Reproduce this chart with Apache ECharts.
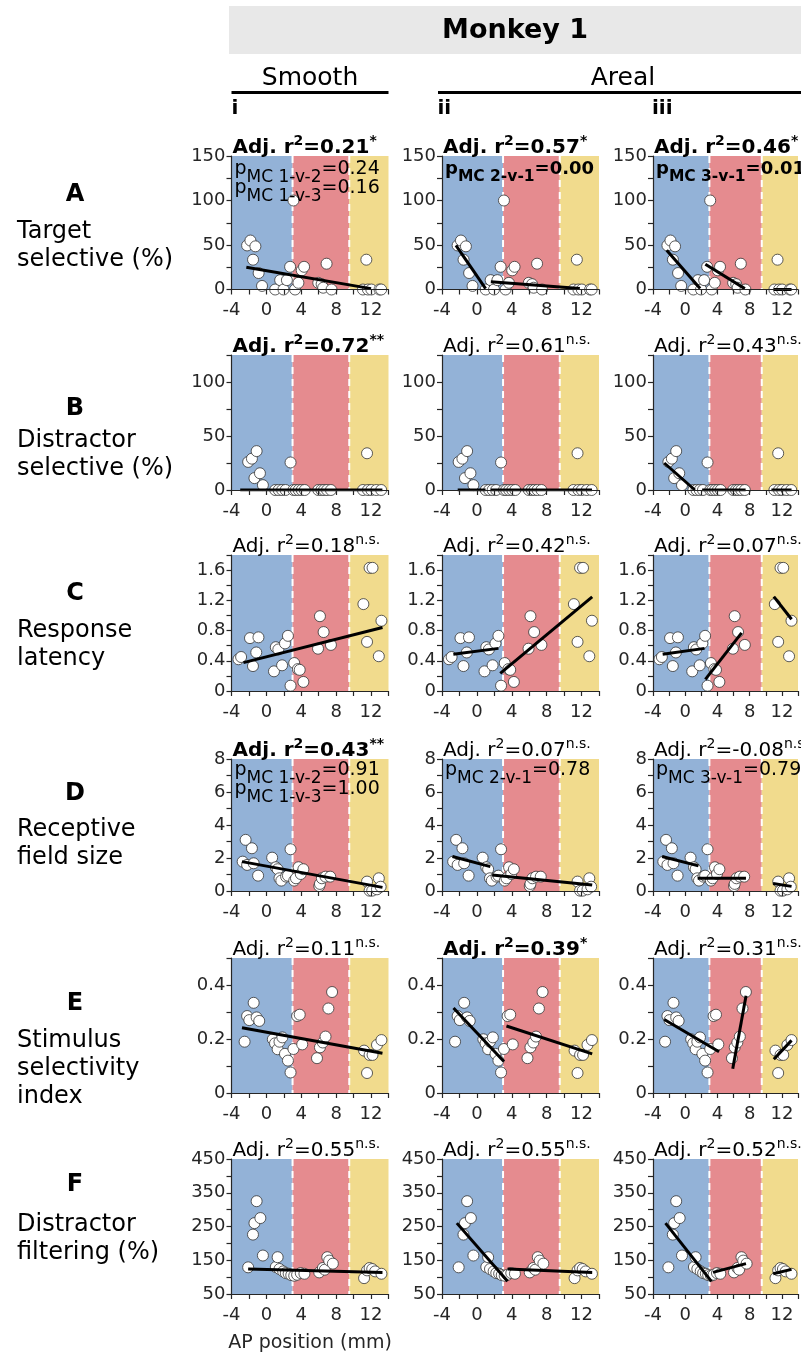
<!DOCTYPE html>
<html><head><meta charset="utf-8">
<script src="https://cdn.jsdelivr.net/npm/echarts@6/dist/echarts.min.js"></script>
<style>html,body{margin:0;padding:0;background:#fff}#c{width:801px;height:1361px}</style>
</head><body><div id="c"></div>
<script>
// ---------------- DATA ----------------
const xTickLabels = [-4, 0, 4, 8, 12];
const bandEdges = [-4, 3, 9.5, 14];
const bandColors = ['#93b2d7', '#e58b8f', '#f1db8d'];
const columnNames = ['i', 'ii', 'iii'];

// A: Target selective (%)
const targetX = [-2.21,-1.83,-1.26,-1.53,-0.89,-0.5,1.01,1.58,1.96,2.35,2.72,3.1,3.29,3.67,4.05,4.32,5.95,6.33,6.51,6.9,7.47,11.07,11.46,11.64,12.03,12.97,13.16];
const targetY = [49.5,55,48.5,33.5,18.5,4,0,10.5,0,10.5,25.5,100,0,7.5,21.5,25.5,7.5,6,2,29,0,0,33.5,0,0,0,0];
const targetFits = [
  [[-2.3, 25, 12.0, 1]],
  [[-2.4, 49.5, 1.0, 1], [1.6, 8.6, 11.8, 1]],
  [[-2.3, 44, 1.85, 1], [2.5, 28.3, 7.4, 1], [11.0, 0, 13.2, 0]]
];
const targetR2 = ['0.21', '0.57', '0.46'];
const targetSig = ['*', '*', '*'];

// B: Distractor selective (%)
const distX = [-2.09,-1.66,-1.12,-1.37,-0.74,-0.4,1.01,1.4,1.8,2.2,2.77,3.1,3.35,3.7,4.05,4.4,5.95,6.3,6.6,6.95,7.4,11.07,11.54,11.64,12.03,12.6,13.16];
const distY = [26,29,36,11,15.5,4.5,0,0,0,0,25.5,0,0,0,0,0,0,0,0,0,0,0,34,0,0,0,0];
const distFits = [
  [[-3.0, 0, 13.3, 0]],
  [[-2.2, 0, 1.0, 0], [1.6, 0, 13.2, 0]],
  [[-2.6, 25, 1.2, 0], [2.1, 0, 7.5, 0], [10.7, 0, 13.2, 0]]
];
const distR2 = ['0.72', '0.61', '0.43'];
const distSig = ['**', 'n.s.', 'n.s.'];

// C: Response latency
const latX = [-3.2,-2.9,-1.88,-1.54,-1.16,-0.91,0.87,1.08,1.37,1.8,2.13,2.47,2.77,3.19,3.61,3.82,4.24,5.92,6.14,6.56,7.4,11.12,11.54,11.83,12.17,12.89,13.19];
const latY = [0.42,0.45,0.70,0.33,0.51,0.71,0.26,0.58,0.55,0.34,0.63,0.73,0.07,0.37,0.29,0.28,0.12,0.56,0.99,0.78,0.61,1.15,0.65,1.63,1.63,0.46,0.93];
const latFits = [
  [[-2.63, 0.375, 13.31, 0.84]],
  [[-2.7, 0.485, 2.47, 0.564], [2.68, 0.234, 13.22, 1.247]],
  [[-2.8, 0.485, 2.4, 0.564], [2.5, 0.154, 7.0, 0.77], [11.0, 1.25, 13.2, 0.95]]
];
const latR2 = ['0.18', '0.42', '0.07'];
const latSig = ['n.s.', 'n.s.', 'n.s.'];

// D: Receptive field size
const rfX = [-2.72,-2.38,-2.21,-1.66,-1.46,-0.95,0.66,1.08,1.29,1.5,1.71,2.26,2.47,2.77,3.19,3.39,3.69,3.94,4.24,6.06,6.14,6.36,6.78,7.32,11.54,11.83,12.13,12.68,12.89,13.1];
const rfY = [1.78,3.1,1.58,2.59,1.68,0.93,2.02,1.44,1.32,0.77,0.63,0.87,0.93,2.53,0.63,0.77,1.44,1.03,1.32,0.3,0.43,0.77,0.87,0.87,0.57,0.02,0.02,0.1,0.77,0.26];
const rfFits = [
  [[-2.8, 1.78, 13.31, 0.22]],
  [[-2.8, 2.09, 1.54, 1.48], [1.75, 0.97, 13.22, 0.36]],
  [[-2.87, 2.09, 1.64, 1.52], [1.55, 0.78, 7.54, 0.78], [10.9, 0.45, 13.2, 0.28]]
];
const rfR2 = ['0.43', '0.07', '-0.08'];
const rfSig = ['**', 'n.s.', 'n.s.'];

// E: Stimulus selectivity index
const ssiX = [-2.5,-2.21,-1.96,-1.46,-1.12,-0.82,0.74,0.99,1.29,1.5,1.83,2.13,2.47,2.77,3.1,3.52,3.82,4.11,5.8,6.14,6.47,6.78,7.11,7.53,11.2,11.54,11.83,12.17,12.68,13.19];
const ssiY = [0.19,0.285,0.27,0.334,0.28,0.267,0.199,0.184,0.162,0.19,0.206,0.145,0.12,0.076,0.163,0.285,0.29,0.18,0.129,0.169,0.187,0.209,0.313,0.374,0.157,0.074,0.141,0.141,0.178,0.196];
const ssiFits = [
  [[-2.8, 0.242, 13.31, 0.147]],
  [[-2.68, 0.315, 3.1, 0.117], [3.39, 0.248, 13.22, 0.145]],
  [[-2.6, 0.272, 4.2, 0.153], [5.9, 0.09, 7.55, 0.36], [11.0, 0.125, 13.2, 0.195]]
];
const ssiR2 = ['0.11', '0.39', '0.31'];
const ssiSig = ['n.s.', '*', 'n.s.'];

// F: Distractor filtering (%)
const filtX = [-2.09,-1.54,-1.37,-1.12,-0.69,-0.4,1.08,1.29,1.5,1.92,2.22,2.55,2.85,3.19,3.52,3.94,4.36,6.06,6.48,6.69,6.98,7.2,7.62,11.2,11.54,11.83,12.13,12.47,13.19];
const filtY = [129,226,260,325,275,164,130,159,124,117,112,110,106,104,107,112,110,114,127,122,159,149,140,97,120,127,124,117,110];
const filtFits = [
  [[-2.09, 124, 13.31, 114]],
  [[-2.3, 260, 3.52, 87.5], [3.52, 124, 13.22, 114]],
  [[-2.45, 260, 3.25, 87.5], [3.45, 114, 7.54, 140], [10.92, 110, 13.2, 123]]
];
const filtR2 = ['0.55', '0.55', '0.52'];
const filtSig = ['n.s.', 'n.s.', 'n.s.'];

// Model-comparison p values
const pmcTarget = [[['1-v-2', '0.24'], ['1-v-3', '0.16']], [['2-v-1', '0.00']], [['3-v-1', '0.01']]];
const pmcTargetBold = [false, true, true];
const pmcRf = [[['1-v-2', '0.91'], ['1-v-3', '1.00']], [['2-v-1', '0.78']], [['3-v-1', '0.79']]];

const rowLetters = ['A', 'B', 'C', 'D', 'E', 'F'];
const rowLabels = [['Target', 'selective (%)'], ['Distractor', 'selective (%)'], ['Response', 'latency'],
  ['Receptive', 'field size'], ['Stimulus', 'selectivity', 'index'], ['Distractor', 'filtering (%)']];

// ---------------- LAYOUT ----------------
const FF = '"DejaVu Sans", sans-serif';
const colLeft = [231.5, 442, 653];
const plotW = 157;
const rowTop = [156, 355, 555, 759, 958, 1159];
const rowH = [133.5, 135, 136, 132, 135, 135];
const pmcOffset = [4, 0, 0, 2, 0, 0];
const letterY = [195, 409, 594, 794, 1004, 1185];
const labelY0 = [231.5, 441, 631, 830, 1041, 1225];

function decLab(every) {
  return v => { const t = Math.round(v * 10); return (t % every === 0) ? (t === 0 ? '0' : (t / 10).toFixed(1)) : ''; };
}
const rows = [
  {x: targetX, y: targetY, fits: targetFits, r2: targetR2, sig: targetSig, pmc: pmcTarget, pmcBold: pmcTargetBold,
   yMin: 0, yMax: 150, yInt: 25, fmt: v => (v % 50 === 0 ? String(v) : '')},
  {x: distX, y: distY, fits: distFits, r2: distR2, sig: distSig,
   yMin: 0, yMax: 125, yInt: 25, fmt: v => (v % 50 === 0 ? String(v) : '')},
  {x: latX, y: latY, fits: latFits, r2: latR2, sig: latSig,
   yMin: 0, yMax: 1.8, yInt: 0.2, fmt: decLab(4)},
  {x: rfX, y: rfY, fits: rfFits, r2: rfR2, sig: rfSig, pmc: pmcRf, pmcBold: [false, false, false],
   yMin: 0, yMax: 8, yInt: 1, fmt: v => (v % 2 === 0 ? String(v) : '')},
  {x: ssiX, y: ssiY, fits: ssiFits, r2: ssiR2, sig: ssiSig,
   yMin: 0, yMax: 0.5, yInt: 0.1, fmt: decLab(2)},
  {x: filtX, y: filtY, fits: filtFits, r2: filtR2, sig: filtSig,
   yMin: 50, yMax: 450, yInt: 50, fmt: v => ((v - 50) % 100 === 0 ? String(v) : '')}
];

function st(size, lh, va, bold, pad) {
  const o = {fontFamily: FF, fontSize: size, lineHeight: lh, verticalAlign: va, color: '#000',
    fontWeight: bold ? 'bold' : 'normal'};
  if (pad) o.padding = pad;
  return o;
}
const rich = {
  tn: st(20, 24, 'bottom', false), tb: st(20, 24, 'bottom', true),
  sn: st(14, 14, 'top', false), sb: st(14, 14, 'top', true),
  pn: st(19, 20, 'top', false), pb: st(18, 20, 'top', true),
  qn: st(17, 20, 'top', false, [9, 0, 0, 0]), qb: st(15.5, 20, 'top', true, [9, 0, 0, 0])
};

const grids = [], xAxes = [], yAxes = [], series = [], titles = [];
rows.forEach((r, ri) => {
  for (let ci = 0; ci < 3; ci++) {
    const gi = grids.length;
    grids.push({left: colLeft[ci], top: rowTop[ri], width: plotW, height: rowH[ri], containLabel: false});
    xAxes.push({
      gridIndex: gi, type: 'value', min: bandEdges[0], max: bandEdges[3], interval: 2, z: 10,
      axisLine: {show: true, onZero: false, lineStyle: {color: '#262626', width: 1.2}},
      axisTick: {show: true, length: 5, lineStyle: {color: '#262626', width: 1.2}},
      splitLine: {show: false},
      axisLabel: {margin: 12, fontFamily: FF, fontSize: 18, color: '#262626',
        formatter: v => (xTickLabels.indexOf(Math.round(v)) >= 0 ? String(Math.round(v)) : '')}
    });
    yAxes.push({
      gridIndex: gi, type: 'value', min: r.yMin, max: r.yMax, interval: r.yInt, z: 10,
      axisLine: {show: true, onZero: false, lineStyle: {color: '#262626', width: 1.2}},
      axisTick: {show: true, length: 5, lineStyle: {color: '#262626', width: 1.2}},
      splitLine: {show: false},
      axisLabel: {margin: 6, fontFamily: FF, fontSize: 18, color: '#262626', formatter: r.fmt}
    });
    const yMin = r.yMin, yMax = r.yMax;
    series.push({
      type: 'custom', xAxisIndex: gi, yAxisIndex: gi, z: 1, silent: true, clip: true,
      data: bandColors.map((c, k) => [bandEdges[k], bandEdges[k + 1], k]),
      renderItem: (params, api) => {
        const p0 = api.coord([api.value(0), yMax]);
        const p1 = api.coord([api.value(1), yMin]);
        return {type: 'rect', shape: {x: p0[0], y: p0[1], width: p1[0] - p0[0], height: p1[1] - p0[1]},
          style: {fill: bandColors[api.value(2)]}};
      }
    });
    series.push({
      type: 'custom', xAxisIndex: gi, yAxisIndex: gi, z: 2, silent: true, clip: true,
      data: [[bandEdges[1]], [bandEdges[2]]],
      renderItem: (params, api) => {
        const p0 = api.coord([api.value(0), yMax]);
        const p1 = api.coord([api.value(0), yMin]);
        return {type: 'line', shape: {x1: p0[0], y1: p0[1], x2: p1[0], y2: p1[1]},
          style: {stroke: '#ffffff', lineWidth: 2, lineDash: [7, 5]}};
      }
    });
    series.push({
      type: 'scatter', xAxisIndex: gi, yAxisIndex: gi, z: 4, silent: true,
      data: r.x.map((v, k) => [v, r.y[k]]),
      symbol: 'circle', symbolSize: 11,
      itemStyle: {color: '#ffffff', borderColor: '#333333', borderWidth: 0.8, opacity: 1}
    });
    r.fits[ci].forEach(f => {
      series.push({
        type: 'line', xAxisIndex: gi, yAxisIndex: gi, z: 5, silent: true, symbol: 'none',
        data: [[f[0], f[1]], [f[2], f[3]]],
        lineStyle: {color: '#000000', width: 3}
      });
    });
    const sg = r.sig[ci];
    const bold = sg !== 'n.s.';
    const m = bold ? 'tb' : 'tn', s = bold ? 'sb' : 'sn';
    titles.push({
      left: colLeft[ci] + 1, top: rowTop[ri] - 22, padding: 0,
      text: `{${m}|Adj. r}{${s}|2}{${m}|=${r.r2[ci]}}{${s}|${sg}}`,
      textStyle: {fontWeight: 'normal', fontFamily: FF, rich: rich}
    });
    if (r.pmc) {
      const pb = r.pmcBold[ci];
      const pm = pb ? 'pb' : 'pn', q = pb ? 'qb' : 'qn';
      r.pmc[ci].forEach((pp, li) => {
        titles.push({
          left: colLeft[ci] + 3, top: rowTop[ri] + pmcOffset[ri] + li * 19, padding: 0,
          text: `{${pm}|p}{${q}|MC ${pp[0]}}{${pm}|=${pp[1]}}`,
          textStyle: {fontWeight: 'normal', fontFamily: FF, rich: rich}
        });
      });
    }
  }
});

// ---------------- GRAPHICS (header, labels) ----------------
const graphic = [
  {type: 'rect', shape: {x: 229, y: 6, width: 580, height: 48}, style: {fill: '#e8e8e8'}, z: 0},
  {type: 'text', x: 515, y: 31, style: {text: 'Monkey 1', fontFamily: FF, fontSize: 27, fontWeight: 'bold', fill: '#000', align: 'center', verticalAlign: 'middle'}},
  {type: 'text', x: 310, y: 78, style: {text: 'Smooth', fontFamily: FF, fontSize: 25, fill: '#000', align: 'center', verticalAlign: 'middle'}},
  {type: 'text', x: 623, y: 78, style: {text: 'Areal', fontFamily: FF, fontSize: 25, fill: '#000', align: 'center', verticalAlign: 'middle'}},
  {type: 'line', shape: {x1: 231.5, y1: 92.5, x2: 388.5, y2: 92.5}, style: {stroke: '#000', lineWidth: 3}},
  {type: 'line', shape: {x1: 438, y1: 92.5, x2: 801, y2: 92.5}, style: {stroke: '#000', lineWidth: 3}},
  {type: 'text', x: 310, y: 1343, style: {text: 'AP position (mm)', fontFamily: FF, fontSize: 19, fill: '#262626', align: 'center', verticalAlign: 'middle'}}
];
const subX = [231.5, 437.5, 652];
columnNames.forEach((n, k) => graphic.push({type: 'text', x: subX[k], y: 109,
  style: {text: n, fontFamily: FF, fontSize: 20, fontWeight: 'bold', fill: '#000', align: 'left', verticalAlign: 'middle'}}));
rowLetters.forEach((L, k) => {
  graphic.push({type: 'text', x: 75, y: letterY[k],
    style: {text: L, fontFamily: FF, fontSize: 24, fontWeight: 'bold', fill: '#000', align: 'center', verticalAlign: 'middle'}});
  rowLabels[k].forEach((t, li) => graphic.push({type: 'text', x: 17, y: labelY0[k] + li * 28,
    style: {text: t, fontFamily: FF, fontSize: 24, fill: '#000', align: 'left', verticalAlign: 'middle'}}));
});

const chart = echarts.init(document.getElementById('c'), null, {renderer: 'canvas'});
chart.setOption({
  animation: false,
  backgroundColor: '#ffffff',
  title: titles,
  grid: grids,
  xAxis: xAxes,
  yAxis: yAxes,
  series: series,
  graphic: graphic
});
</script></body></html>
